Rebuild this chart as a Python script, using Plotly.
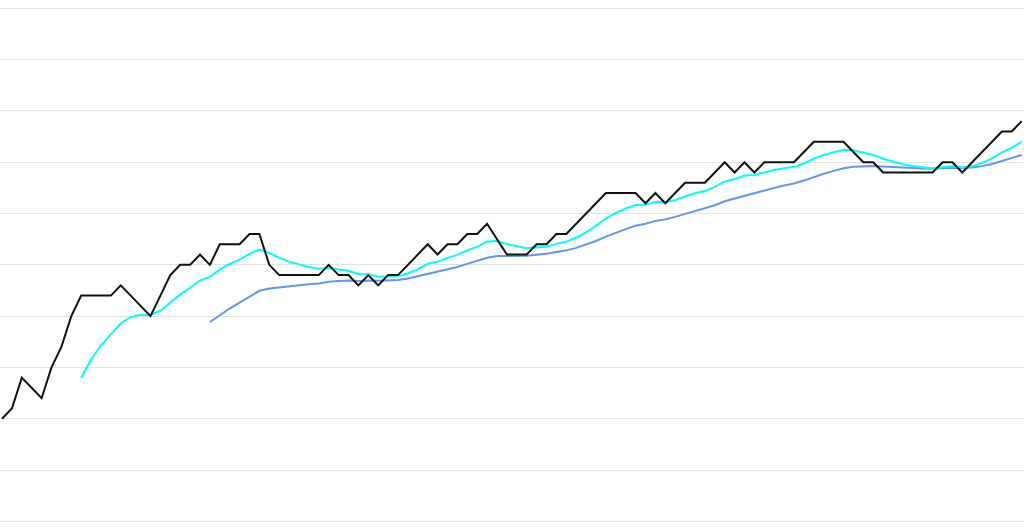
import plotly.graph_objects as go

# Index of each observation
idx = list(range(104))

# Main series (black)
price = [10, 11, 14, 13, 12, 15, 17, 20, 22, 22,
         22, 22, 23, 22, 21, 20, 22, 24, 25, 25,
         26, 25, 27, 27, 27, 28, 28, 25, 24, 24,
         24, 24, 24, 25, 24, 24, 23, 24, 23, 24,
         24, 25, 26, 27, 26, 27, 27, 28, 28, 29,
         27.5, 26, 26, 26, 27, 27, 28, 28, 29, 30,
         31, 32, 32, 32, 32, 31, 32, 31, 32, 33,
         33, 33, 34, 35, 34, 35, 34, 35, 35, 35,
         35, 36, 37, 37, 37, 37, 36, 35, 35, 34,
         34, 34, 34, 34, 34, 35, 35, 34, 35, 36,
         37, 38, 38, 39]

# Fast average (cyan), starts at index 8
fast_start = 8
fast = [14.00, 15.78, 17.16, 18.24, 19.30, 19.90, 20.14, 20.11, 20.53, 21.30,
        22.12, 22.76, 23.48, 23.82, 24.53, 25.08, 25.50, 26.06, 26.49, 26.16,
        25.68, 25.31, 25.02, 24.79, 24.61, 24.70, 24.54, 24.42, 24.11, 24.08,
        23.84, 23.88, 23.90, 24.15, 24.56, 25.10, 25.30, 25.68, 25.97, 26.42,
        26.77, 27.27, 27.32, 27.03, 26.80, 26.62, 26.71, 26.77, 27.04, 27.26,
        27.64, 28.17, 28.80, 29.51, 30.06, 30.49, 30.83, 30.87, 31.12, 31.09,
        31.29, 31.67, 31.97, 32.20, 32.60, 33.13, 33.33, 33.70, 33.76, 34.04,
        34.25, 34.42, 34.55, 34.87, 35.34, 35.71, 36.00, 36.22, 36.17, 35.91,
        35.71, 35.33, 35.03, 34.80, 34.63, 34.49, 34.38, 34.52, 34.62, 34.49,
        34.60, 34.91, 35.37, 35.96, 36.41, 36.99]

# Slow average (blue), starts at index 21
slow_start = 21
slow = [19.43, 20.12, 20.74, 21.31, 21.92, 22.47, 22.70, 22.82, 22.93, 23.03,
        23.11, 23.19, 23.36, 23.42, 23.47, 23.43, 23.48, 23.44, 23.49, 23.53,
        23.67, 23.88, 24.16, 24.33, 24.57, 24.79, 25.09, 25.35, 25.68, 25.85,
        25.86, 25.87, 25.89, 25.99, 26.08, 26.25, 26.41, 26.65, 26.95, 27.32,
        27.75, 28.13, 28.48, 28.80, 29.00, 29.28, 29.43, 29.67, 29.97, 30.25,
        30.50, 30.81, 31.19, 31.45, 31.77, 31.98, 32.25, 32.50, 32.73, 32.93,
        33.21, 33.56, 33.87, 34.16, 34.41, 34.56, 34.60, 34.63, 34.58, 34.52,
        34.48, 34.43, 34.39, 34.36, 34.42, 34.47, 34.43, 34.48, 34.62, 34.83,
        35.12, 35.38, 35.71]

fig = go.Figure()
fig.add_trace(go.Scatter(x=idx[slow_start:], y=slow, mode="lines",
                         line=dict(color="#6495ED", width=2), hoverinfo="skip"))
fig.add_trace(go.Scatter(x=idx[fast_start:], y=fast, mode="lines",
                         line=dict(color="#00FFFF", width=2), hoverinfo="skip"))
fig.add_trace(go.Scatter(x=idx, y=price, mode="lines",
                         line=dict(color="#111111", width=2), hoverinfo="skip"))

fig.update_layout(
    width=1024, height=532,
    margin=dict(l=0, r=0, t=0, b=0),
    paper_bgcolor="white", plot_bgcolor="white",
    showlegend=False,
    xaxis=dict(range=[-0.202, 103.232], showgrid=False, zeroline=False,
               showticklabels=False, showline=False, ticks=""),
    yaxis=dict(range=[-1.04, 50.81], tick0=0, dtick=5, showgrid=True,
               gridcolor="#e3e3e3", gridwidth=1, zeroline=False,
               showticklabels=False, showline=False, ticks=""),
)

fig.write_html(
    "out.html",
    config={"displayModeBar": False},
    post_script="document.body.style.margin='0';document.body.style.padding='0';"
                "document.body.style.overflow='hidden';",
)
